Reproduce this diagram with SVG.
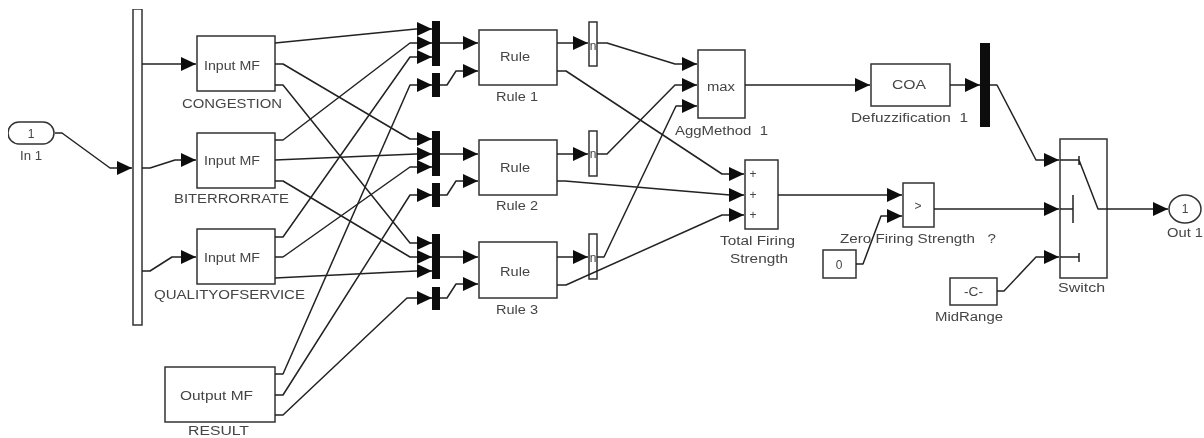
<svg xmlns="http://www.w3.org/2000/svg" width="1204" height="438" viewBox="0 0 1204 438">
<defs>
<marker id="arr" markerUnits="userSpaceOnUse" markerWidth="15" markerHeight="14" refX="15" refY="7" orient="auto" viewBox="0 0 15 14"><path d="M0 0L15 7L0 14Z" fill="#111"/></marker>
<filter id="soft" x="0" y="0" width="100%" height="100%"><feGaussianBlur stdDeviation="0.45"/></filter>
</defs>
<style>
.b{fill:#fff;stroke:#333;stroke-width:1.5}
.k{fill:#111;stroke:none}
.c{fill:none;stroke:#222;stroke-width:1.5;stroke-linejoin:round}
.a{marker-end:url(#arr)}
.t{font-family:"Liberation Sans",Arial,sans-serif;font-size:12px;fill:#444;text-anchor:middle}
</style>
<rect width="1204" height="438" fill="#fff"/>
<g filter="url(#soft)">
<g id="nodes">
<g id="in1"><rect class="b" x="8" y="122" width="46" height="22" rx="11"/><text class="t" x="31" y="138">1</text><text class="t" x="31" y="160" textLength="22" lengthAdjust="spacingAndGlyphs">In 1</text></g>
<g id="bus"><rect class="b" x="133" y="9" width="9" height="316"/></g>
<g id="congestion"><rect class="b" x="197" y="36" width="78" height="55"/><text class="t" x="232" y="70" textLength="56" lengthAdjust="spacingAndGlyphs">Input MF</text><text class="t" x="232" y="108" textLength="100" lengthAdjust="spacingAndGlyphs">CONGESTION</text></g>
<g id="biterrorrate"><rect class="b" x="197" y="133" width="78" height="55"/><text class="t" x="232" y="165" textLength="56" lengthAdjust="spacingAndGlyphs">Input MF</text><text class="t" x="231.500" y="203" textLength="115" lengthAdjust="spacingAndGlyphs">BITERRORRATE</text></g>
<g id="qualityofservice"><rect class="b" x="197" y="229" width="78" height="55"/><text class="t" x="232" y="262" textLength="56" lengthAdjust="spacingAndGlyphs">Input MF</text><text class="t" x="229.500" y="299" textLength="151" lengthAdjust="spacingAndGlyphs">QUALITYOFSERVICE</text></g>
<g id="result"><rect class="b" x="165" y="367" width="110" height="55"/><text class="t" x="216.500" y="400" textLength="73" lengthAdjust="spacingAndGlyphs">Output MF</text><text class="t" x="218.500" y="435" textLength="61" lengthAdjust="spacingAndGlyphs">RESULT</text></g>
<g id="mux1a"><rect class="k" x="432" y="21" width="8" height="45"/></g>
<g id="mux1b"><rect class="k" x="432" y="73" width="8" height="24"/></g>
<g id="mux2a"><rect class="k" x="432" y="131" width="8" height="45"/></g>
<g id="mux2b"><rect class="k" x="432" y="183" width="8" height="24"/></g>
<g id="mux3a"><rect class="k" x="432" y="234" width="8" height="45"/></g>
<g id="mux3b"><rect class="k" x="432" y="287" width="8" height="23"/></g>
<g id="rule1"><rect class="b" x="479" y="30" width="78" height="55"/><text class="t" x="515" y="61" textLength="30" lengthAdjust="spacingAndGlyphs">Rule</text><text class="t" x="517" y="101" textLength="42" lengthAdjust="spacingAndGlyphs">Rule 1</text></g>
<g id="rule2"><rect class="b" x="479" y="140" width="78" height="55"/><text class="t" x="515" y="172" textLength="30" lengthAdjust="spacingAndGlyphs">Rule</text><text class="t" x="517" y="210" textLength="42" lengthAdjust="spacingAndGlyphs">Rule 2</text></g>
<g id="rule3"><rect class="b" x="479" y="242" width="78" height="56"/><text class="t" x="515" y="276" textLength="30" lengthAdjust="spacingAndGlyphs">Rule</text><text class="t" x="517" y="314" textLength="42" lengthAdjust="spacingAndGlyphs">Rule 3</text></g>
<g id="demux1"><rect class="b" x="589" y="22" width="8" height="44"/><text class="t" x="593" y="50">n</text></g>
<g id="demux2"><rect class="b" x="589" y="131" width="8" height="45"/><text class="t" x="593" y="158">n</text></g>
<g id="demux3"><rect class="b" x="589" y="234" width="8" height="45"/><text class="t" x="593" y="262">n</text></g>
<g id="aggmethod"><rect class="b" x="698" y="50" width="47" height="68"/><text class="t" x="721" y="91" textLength="28" lengthAdjust="spacingAndGlyphs">max</text><text class="t" x="721.500" y="135" xml:space="preserve" textLength="93" lengthAdjust="spacingAndGlyphs">AggMethod  1</text></g>
<g id="totalfiring"><rect class="b" x="745" y="160" width="33" height="69"/><text class="t" x="753" y="178">+</text><text class="t" x="753" y="199">+</text><text class="t" x="753" y="219">+</text><text class="t" x="757.500" y="245" textLength="75" lengthAdjust="spacingAndGlyphs">Total Firing</text><text class="t" x="759" y="263" textLength="58" lengthAdjust="spacingAndGlyphs">Strength</text></g>
<g id="coa"><rect class="b" x="871" y="64" width="79" height="42"/><text class="t" x="909" y="89" textLength="34" lengthAdjust="spacingAndGlyphs">COA</text><text class="t" x="909.500" y="122" xml:space="preserve" textLength="117" lengthAdjust="spacingAndGlyphs">Defuzzification  1</text></g>
<g id="demuxout"><rect class="k" x="980" y="43" width="10" height="84"/></g>
<g id="compare"><rect class="b" x="903" y="183" width="31" height="44"/><text class="t" x="918" y="210">&gt;</text><text class="t" x="918" y="243" xml:space="preserve" textLength="156" lengthAdjust="spacingAndGlyphs">Zero Firing Strength   ?</text></g>
<g id="zero"><rect class="b" x="823" y="250" width="33" height="28"/><text class="t" x="839" y="269">0</text></g>
<g id="midrange"><rect class="b" x="950" y="278" width="47" height="27"/><text class="t" x="973.500" y="296" textLength="19" lengthAdjust="spacingAndGlyphs">-C-</text><text class="t" x="969" y="321" textLength="68" lengthAdjust="spacingAndGlyphs">MidRange</text></g>
<g id="switch"><rect class="b" x="1060" y="139" width="47" height="139"/><path class="c" d="M1060 160H1079M1079 156V165M1079 160L1098 209H1107M1060 209H1073M1073 195V223M1060 257H1079M1079 253V262"/><text class="t" x="1081.500" y="292" textLength="47" lengthAdjust="spacingAndGlyphs">Switch</text></g>
<g id="out1"><ellipse class="b" cx="1185" cy="209" rx="16" ry="14"/><text class="t" x="1185" y="213">1</text><text class="t" x="1185" y="237" textLength="36" lengthAdjust="spacingAndGlyphs">Out 1</text></g>
</g>
<g id="connectors">
<polyline class="c a" points="55,133 62,133 110,168 132,168"/>
<polyline class="c a" points="142,64 196,64"/>
<polyline class="c a" points="142,168 150,168 175,160 196,160"/>
<polyline class="c a" points="142,271 150,271 172,257 196,257"/>
<polyline class="c a" points="275,43 416,29 432,29"/>
<polyline class="c a" points="275,64 283,64 410,139 432,139"/>
<polyline class="c a" points="275,85 283,85 410,243 432,243"/>
<polyline class="c a" points="275,140 283,140 410,43 432,43"/>
<polyline class="c a" points="275,160 416,154 432,154"/>
<polyline class="c a" points="275,181 283,181 410,257 432,257"/>
<polyline class="c a" points="275,237 283,237 410,57 432,57"/>
<polyline class="c a" points="275,257 283,257 410,167 432,167"/>
<polyline class="c a" points="275,278 416,271 432,271"/>
<polyline class="c a" points="275,374 283,374 410,85 432,85"/>
<polyline class="c a" points="275,395 283,395 410,195 432,195"/>
<polyline class="c a" points="275,415 283,415 407,298 432,298"/>
<polyline class="c a" points="440,43 478,43"/>
<polyline class="c a" points="440,85 447,85 456,71 478,71"/>
<polyline class="c a" points="440,154 478,154"/>
<polyline class="c a" points="440,195 447,195 456,181 478,181"/>
<polyline class="c a" points="440,257 478,257"/>
<polyline class="c a" points="440,298 447,298 456,284 478,284"/>
<polyline class="c a" points="557,43 588,43"/>
<polyline class="c a" points="557,154 588,154"/>
<polyline class="c a" points="557,257 588,257"/>
<polyline class="c a" points="597,43 607,43 675,64 697,64"/>
<polyline class="c a" points="597,154 607,154 675,85 697,85"/>
<polyline class="c a" points="597,257 604,257 676,106 697,106"/>
<polyline class="c a" points="557,71 566,71 722,174 744,174"/>
<polyline class="c a" points="557,181 565,181 730,195 744,195"/>
<polyline class="c a" points="557,285 566,285 722,215 744,215"/>
<polyline class="c a" points="745,85 870,85"/>
<polyline class="c a" points="778,195 902,195"/>
<polyline class="c a" points="856,264 863,264 881,216 902,216"/>
<polyline class="c a" points="934,209 1059,209"/>
<polyline class="c a" points="950,85 980,85"/>
<polyline class="c a" points="990,85 997,85 1036,160 1059,160"/>
<polyline class="c a" points="997,291 1004,291 1036,257 1059,257"/>
<polyline class="c a" points="1107,209 1168,209"/>
</g>
</g>
</svg>
